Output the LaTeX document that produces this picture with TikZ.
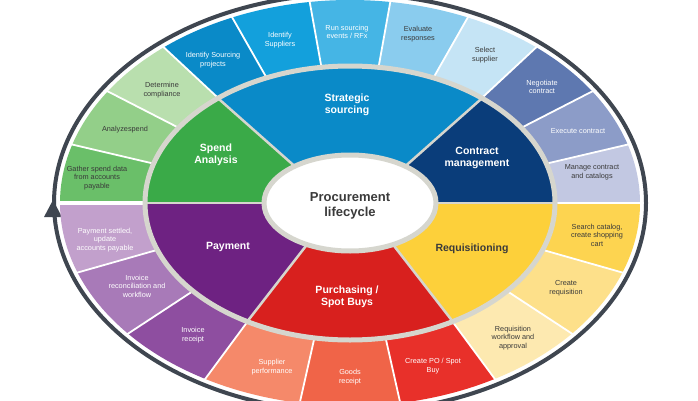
\documentclass[tikz,border=0pt]{standalone}
\usepackage{fontspec}
\setmainfont{Liberation Sans}
\setsansfont{Liberation Sans}
\usetikzlibrary{calc}
\newcommand\ringseg[7]{\fill[#7] ($(C)+(#1:#3 and #4)$) arc[start angle=#1,end angle=#2,x radius=#3,y radius=#4] -- ($(C)+(#2:#5 and #6)$) arc[start angle=#2,end angle=#1,x radius=#5,y radius=#6] -- cycle;}
\newcommand\outseg[3]{\ringseg{#1}{#2}{207}{139}{290}{203}{#3}}
\newcommand\midseg[3]{\ringseg{#1}{#2}{86}{48}{203}{135}{#3}}
\newcommand\odiv[2]{\draw[white,line width=#2] ($(C)+(#1:205 and 137)$) -- ($(C)+(#1:292 and 205)$);}
\newcommand\mdiv[1]{\draw[ringgray,line width=2.5pt] ($(C)+(#1:86 and 48)$) -- ($(C)+(#1:203 and 135)$);}
\definecolor{ringgray}{HTML}{D6D6CE}
\definecolor{darkring}{HTML}{3F4650}
\definecolor{txtdark}{HTML}{3A3A3A}
\definecolor{g1}{HTML}{6ABF69}\definecolor{g2}{HTML}{93CF89}\definecolor{g3}{HTML}{B9DFAE}\definecolor{gm}{HTML}{3AAA48}
\definecolor{b1}{HTML}{0A8AC8}\definecolor{b2}{HTML}{13A0DC}\definecolor{b3}{HTML}{45B5E5}\definecolor{b4}{HTML}{8ACCEE}\definecolor{b5}{HTML}{C5E4F5}\definecolor{bm}{HTML}{0A8AC8}
\definecolor{n1}{HTML}{5E78B0}\definecolor{n2}{HTML}{8C9CC8}\definecolor{n3}{HTML}{C2C8E2}\definecolor{nm}{HTML}{0A3D7A}
\definecolor{y1}{HTML}{FDD450}\definecolor{y2}{HTML}{FDE08A}\definecolor{y3}{HTML}{FDE9B0}\definecolor{ym}{HTML}{FDD03A}
\definecolor{r1}{HTML}{E8302A}\definecolor{r2}{HTML}{F06448}\definecolor{r3}{HTML}{F5896A}\definecolor{rm}{HTML}{D8201E}
\definecolor{p1}{HTML}{8E4EA0}\definecolor{p2}{HTML}{A87AB8}\definecolor{p3}{HTML}{C2A0CC}\definecolor{pm}{HTML}{6E2282}
\tikzset{
 otxt/.style={align=center,font=\fontsize{7.3}{8.6}\selectfont,text=white},
 otxtd/.style={otxt,text=txtdark},
 mtxt/.style={align=center,font=\bfseries\fontsize{10.5}{12}\selectfont,text=white},
}
\begin{document}
\begin{tikzpicture}[x=1pt,y=1pt]
\useasboundingbox (0,0) rectangle (698,400);
\clip (0,0) rectangle (698,400);
\fill[white] (0,0) rectangle (698,400);
\coordinate (C) at (350,197);
% dark outer ring
\draw[darkring,line width=4pt] (C) ellipse[x radius=296,y radius=209];
\fill[darkring] (53,200) -- (44,183) -- (62,183) -- cycle;
% outer ring
\outseg{163.3}{180}{g1}\outseg{146.7}{163.3}{g2}\outseg{130}{146.7}{g3}
\outseg{114}{130}{b1}\outseg{98}{114}{b2}\outseg{82}{98}{b3}\outseg{66}{82}{b4}\outseg{50}{66}{b5}
\outseg{33.3}{50}{n1}\outseg{16.7}{33.3}{n2}\outseg{0}{16.7}{n3}
\outseg{-20}{0}{y1}\outseg{-40}{-20}{y2}\outseg{-60}{-40}{y3}
\outseg{-80}{-60}{r1}\outseg{-100}{-80}{r2}\outseg{-120}{-100}{r3}
\outseg{-140}{-120}{p1}\outseg{-160}{-140}{p2}\outseg{-180}{-160}{p3}
\foreach \a in {163.3,146.7,130,114,98,82,66,50,33.3,16.7,0,-20,-40,-60,-80,-100,-120,-140,-160} {\odiv{\a}{1.8pt}}
\odiv{180}{4pt}
% middle ring
\midseg{130}{180}{gm}\midseg{50}{130}{bm}\midseg{0}{50}{nm}
\midseg{-60}{0}{ym}\midseg{-120}{-60}{rm}\midseg{-180}{-120}{pm}
\foreach \a in {0,50,130,180,240,300} {\mdiv{\a}}
\draw[ringgray,line width=5pt] (C) ellipse[x radius=205,y radius=137];
\fill[white] (C) ellipse[x radius=85,y radius=47];
\draw[ringgray,line width=5pt] (C) ellipse[x radius=86,y radius=48];
% center
\node[align=center,font=\bfseries\fontsize{13}{15}\selectfont,text=txtdark] (center) at (350,194) {Procurement\\lifecycle};
% middle labels
\node[mtxt] (ss) at (347,295) {Strategic\\sourcing};
\node[mtxt] (sa) at (216,245) {Spend\\Analysis};
\node[mtxt] (cm) at (477,242) {Contract\\management};
\node[mtxt,text=txtdark] (rq) at (472,151) {Requisitioning};
\node[mtxt] (pu) at (347,103) {Purchasing /\\Spot Buys};
\node[mtxt] (pa) at (228,153) {Payment};
% outer labels
\node[otxtd] (o1) at (97,222) {Gather spend data\\from accounts\\payable};
\node[otxtd] (o2) at (125,270) {Analyzespend};
\node[otxtd] (o3) at (162,310) {Determine\\compliance};
\node[otxt] (o4) at (213,340) {Identify Sourcing\\projects};
\node[otxt] (o5) at (280,360) {Identify\\Suppliers};
\node[otxt] (o6) at (347,368) {Run sourcing\\events / RFx};
\node[otxtd] (o7) at (418,366) {Evaluate\\responses};
\node[otxtd] (o8) at (485,345) {Select\\supplier};
\node[otxt] (o9) at (542,313) {Negotiate\\contract};
\node[otxt] (o10) at (578,269) {Execute contract};
\node[otxtd] (o11) at (592,228) {Manage contract\\and catalogs};
\node[otxtd] (o12) at (597,165) {Search catalog,\\create shopping\\cart};
\node[otxtd] (o13) at (566,112) {Create\\requisition};
\node[otxtd] (o14) at (513,62) {Requisition\\workflow and\\approval};
\node[otxt] (o15) at (433,34) {Create PO / Spot\\Buy};
\node[otxt] (o16) at (350,23) {Goods\\receipt};
\node[otxt] (o17) at (272,33) {Supplier\\performance};
\node[otxt] (o18) at (193,65) {Invoice\\receipt};
\node[otxt] (o19) at (137,114) {Invoice\\reconciliation and\\workflow};
\node[otxt] (o20) at (105,160) {Payment settled,\\update\\accounts payable};
\end{tikzpicture}
\end{document}
